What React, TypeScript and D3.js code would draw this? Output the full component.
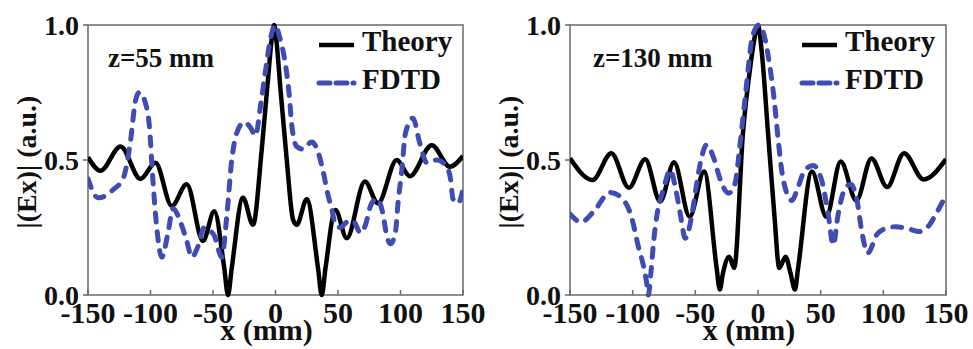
import React from "react";
import * as d3 from "d3";

// ---------- data ----------
const xTicks = [-150, -100, -50, 0, 50, 100, 150];
const yTicks = [0, 0.5, 1.0];
const yTickLabels = ["0.0", "0.5", "1.0"];
const seriesNames = ["Theory", "FDTD"];
const panelLabels = ["z=55 mm", "z=130 mm"];

const theory55X = [-150, -140, -124, -108, -96, -83, -71, -58, -49, -41, -38, -35, -26, -18, -11, -6, -3, -1, 1, 4, 9, 14, 17, 25, 34, 37, 40, 48, 57, 71.5, 82, 97, 107.5, 125, 139.5, 150];
const theory55Y = [0.51, 0.46, 0.55, 0.43, 0.49, 0.33, 0.41, 0.2, 0.31, 0.1, 0.0, 0.1, 0.36, 0.26, 0.54, 0.8, 0.95, 1.0, 0.93, 0.76, 0.5, 0.28, 0.26, 0.355, 0.1, 0.0, 0.1, 0.315, 0.21, 0.42, 0.34, 0.5, 0.44, 0.555, 0.475, 0.515];

const fdtd55X = [-150, -142, -135, -130, -122, -116, -112, -109, -104, -101, -98, -95, -91, -86, -82, -76, -71, -67, -62, -57, -53, -49, -43, -39, -35, -31, -25, -20, -16, -12, -8, -4, 0, 3, 7, 11, 13, 17, 22, 29, 34, 38, 42, 45, 48, 52, 57, 62, 68, 72, 76, 81, 86, 89, 92, 96, 98, 101, 104, 110, 115, 118, 121, 129, 137, 140, 142, 146, 150];
const fdtd55Y = [0.43, 0.36, 0.37, 0.39, 0.43, 0.57, 0.72, 0.75, 0.71, 0.63, 0.42, 0.25, 0.14, 0.23, 0.32, 0.27, 0.2, 0.14, 0.18, 0.25, 0.24, 0.22, 0.14, 0.29, 0.5, 0.6, 0.64, 0.62, 0.59, 0.7, 0.83, 0.95, 1.0, 0.96, 0.88, 0.74, 0.63, 0.55, 0.54, 0.567, 0.53, 0.46, 0.37, 0.32, 0.26, 0.25, 0.27, 0.275, 0.23, 0.26, 0.33, 0.357, 0.3, 0.22, 0.19, 0.235, 0.34, 0.46, 0.6, 0.655, 0.57, 0.52, 0.49, 0.5, 0.475, 0.43, 0.356, 0.34, 0.39];

const theory130X = [-150, -132, -117, -103, -90, -78, -67, -54.5, -43, -33, -30.5, -28, -23, -19, -12, -6, -2, 0, 3, 8, 13, 17, 22, 26, 29.5, 32, 43, 54.5, 66, 78.5, 90.5, 103, 116.5, 132, 150];
const theory130Y = [0.506, 0.426, 0.525, 0.397, 0.503, 0.346, 0.492, 0.29, 0.457, 0.1, 0.02, 0.08, 0.142, 0.1, 0.6, 0.85, 0.97, 1.0, 0.9, 0.6, 0.3, 0.1, 0.142, 0.08, 0.02, 0.1, 0.457, 0.29, 0.494, 0.35, 0.506, 0.4, 0.525, 0.428, 0.503];

const fdtd130X = [-150, -141, -131, -118, -109, -101, -95.5, -91, -89, -87.5, -85.5, -83, -80.5, -75.5, -70, -66, -62, -58, -53, -49, -45, -41, -35.5, -30, -23.5, -18.5, -14.5, -10.5, -4, 1, 5, 9, 13, 16, 20, 27, 32, 37, 44, 50.5, 56, 60, 64, 69, 74, 79, 83, 87.5, 95, 103, 110, 120, 129, 136, 142, 150];
const fdtd130Y = [0.3, 0.27, 0.31, 0.38, 0.36, 0.29, 0.18, 0.1, 0.05, 0.0, 0.08, 0.21, 0.3, 0.39, 0.463, 0.4, 0.3, 0.21, 0.29, 0.41, 0.51, 0.556, 0.51, 0.426, 0.377, 0.41, 0.55, 0.72, 0.965, 1.0, 0.96, 0.86, 0.72, 0.58, 0.43, 0.35, 0.4, 0.46, 0.48, 0.43, 0.3, 0.185, 0.3, 0.39, 0.41, 0.35, 0.23, 0.155, 0.225, 0.248, 0.253, 0.245, 0.235, 0.255, 0.3, 0.37];

// ---------- styles ----------
const FONT = "Liberation Serif, Times New Roman, serif";
const BLUE = "#3e4db4";
const FRAME = "#6a6a6a";

const txt = (size: number): React.CSSProperties => ({
  fontFamily: FONT,
  fontWeight: "bold",
  fontSize: size,
  fill: "#111",
});

type PanelProps = {
  x0: number;
  x1: number;
  label: string;
  labelX: number;
  theoryX: number[];
  theoryY: number[];
  fdtdX: number[];
  fdtdY: number[];
  id: string;
};

const Y0 = 25;
const Y1 = 295;

function Panel({ x0, x1, label, labelX, theoryX, theoryY, fdtdX, fdtdY, id }: PanelProps) {
  const xs = d3.scaleLinear().domain([-150, 150]).range([x0, x1]);
  const ys = d3.scaleLinear().domain([0, 1]).range([Y1, Y0]);
  const line = d3
    .line<[number, number]>()
    .x((d) => xs(d[0]))
    .y((d) => ys(d[1]))
    .curve(d3.curveMonotoneX);
  const th = line(theoryX.map((x, i) => [x, theoryY[i]] as [number, number])) || "";
  const fd = line(fdtdX.map((x, i) => [x, fdtdY[i]] as [number, number])) || "";
  const midX = (x0 + x1) / 2 - 9;
  return (
    <g>
      <defs>
        <clipPath id={id}>
          <rect x={x0} y={Y0 - 3} width={x1 - x0} height={Y1 - Y0 + 6} />
        </clipPath>
      </defs>
      <rect x={x0} y={Y0} width={x1 - x0} height={Y1 - Y0} fill="none" stroke={FRAME} strokeWidth={1.5} />
      {xTicks.map((t) => (
        <g key={"x" + t}>
          <line x1={xs(t)} x2={xs(t)} y1={Y1} y2={Y1 - 5} stroke={FRAME} strokeWidth={1.5} />
          <text x={xs(t)} y={323} textAnchor="middle" fontFamily={FONT} fontWeight="bold" style={txt(30)}>
            {t}
          </text>
        </g>
      ))}
      {yTicks.map((t, i) => (
        <g key={"y" + t}>
          <line x1={x0 - 5} x2={x0} y1={ys(t)} y2={ys(t)} stroke={FRAME} strokeWidth={1.5} />
          <text x={x0 - 9} y={ys(t)} dy="0.35em" textAnchor="end" fontFamily={FONT} fontWeight="bold" style={txt(28)}>
            {yTickLabels[i]}
          </text>
        </g>
      ))}
      <text x={midX} y={340} textAnchor="middle" fontFamily={FONT} fontWeight="bold" style={txt(30)}>
        x (mm)
      </text>
      <text transform={`translate(${x0 - 62},162) rotate(-90)`} textAnchor="middle" dy="0.35em" fontFamily={FONT} fontWeight="bold" style={txt(28)}>
        |(Ex)| (a.u.)
      </text>
      <g clipPath={`url(#${id})`}>
        <path d={th} fill="none" stroke="#000" strokeWidth={4.5} strokeLinejoin="round" />
        <path d={fd} fill="none" stroke={BLUE} strokeWidth={5} strokeDasharray="9 10" strokeLinecap="round" strokeLinejoin="round" />
      </g>
      <text x={labelX} y={67} fontFamily={FONT} fontWeight="bold" style={txt(27)}>
        {label}
      </text>
      <line x1={x1 - 144} x2={x1 - 109} y1={45} y2={45} stroke="#000" strokeWidth={4.5} />
      <line x1={x1 - 144} x2={x1 - 109} y1={83} y2={83} stroke={BLUE} strokeWidth={5} strokeDasharray="11 6" strokeLinecap="round" />
      <text x={x1 - 101} y={51} fontFamily={FONT} fontWeight="bold" style={txt(29)}>
        {seriesNames[0]}
      </text>
      <text x={x1 - 101} y={89} fontFamily={FONT} fontWeight="bold" style={txt(29)}>
        {seriesNames[1]}
      </text>
    </g>
  );
}

export default function App() {
  return (
    <svg width={973} height={349} style={{ position: "absolute", left: 0, top: 0, background: "#fff" }}>
      <rect x={0} y={0} width={973} height={349} fill="#fff" />
      <Panel x0={88} x1={463} label={panelLabels[0]} labelX={108} theoryX={theory55X} theoryY={theory55Y} fdtdX={fdtd55X} fdtdY={fdtd55Y} id="clipL" />
      <Panel x0={570} x1={946} label={panelLabels[1]} labelX={593} theoryX={theory130X} theoryY={theory130Y} fdtdX={fdtd130X} fdtdY={fdtd130Y} id="clipR" />
    </svg>
  );
}
